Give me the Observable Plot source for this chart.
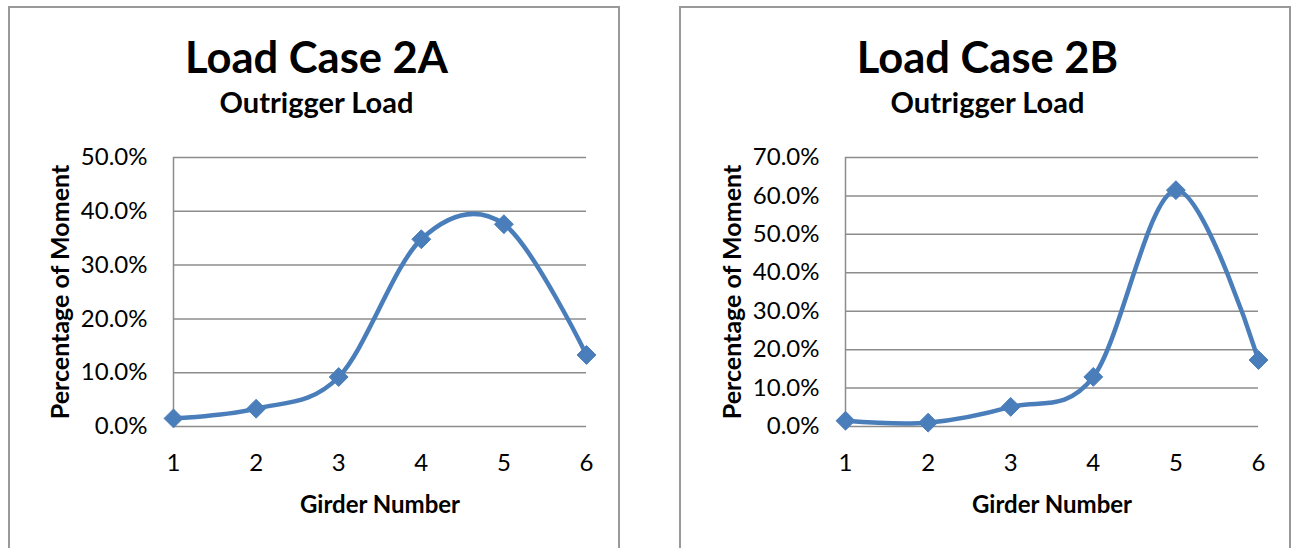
<!DOCTYPE html>
<html>
<head>
<meta charset="utf-8">
<script src="https://cdn.jsdelivr.net/npm/d3@7"></script>
<script src="https://cdn.jsdelivr.net/npm/@observablehq/plot@0.6"></script>
<style>
  html, body { margin: 0; padding: 0; background: #fff; }
  body { position: relative; width: 1292px; height: 548px; overflow: hidden; }
  .box { position: absolute; top: 6px; width: 612px; height: 620px; border: 2px solid #999; box-sizing: border-box; }
  .chart { position: absolute; top: 0; }
</style>
</head>
<body>
<div class="box" style="left:8px"></div>
<div class="box" style="left:679px"></div>
<div id="chartA" class="chart" style="left:0px"></div>
<div id="chartB" class="chart" style="left:640px"></div>
<script>
const girders = [1, 2, 3, 4, 5, 6];
const valuesA = [0.015, 0.033, 0.092, 0.348, 0.376, 0.133];
const valuesB = [0.015, 0.010, 0.051, 0.129, 0.615, 0.173];
const yTicksA = [0, 0.1, 0.2, 0.3, 0.4, 0.5];
const yTicksB = [0, 0.1, 0.2, 0.3, 0.4, 0.5, 0.6, 0.7];
const titleA = "Load Case 2A";
const titleB = "Load Case 2B";
const subtitle = "Outrigger Load";
const xLabel = "Girder Number";
const yLabel = "Percentage of Moment";

const blue = "#4a7ebb";
const grid = "#8c8c8c";
const font = "Lato, 'Open Sans', sans-serif";

function makeChart({values, yTicks, title, width, marginLeft, marginRight, titleDx}) {
  const data = girders.map((g, i) => ({girder: g, value: values[i]}));
  return Plot.plot({
    width,
    height: 548,
    marginLeft,
    marginRight,
    marginTop: 157,
    marginBottom: 122,
    style: {fontFamily: font, background: "transparent", color: "#000", overflow: "visible"},
    x: {domain: [1, 6], axis: null},
    y: {domain: [0, yTicks[yTicks.length - 1]], axis: null},
    marks: [
      Plot.ruleY(yTicks, {stroke: grid, strokeWidth: 1.5}),
      Plot.ruleX([1], {stroke: grid, strokeWidth: 1.5}),
      Plot.axisY({ticks: yTicks, tickSize: 0, tickPadding: 26, tickFormat: d3.format(".1%"), fontSize: 24, label: null, fill: "#000"}),
      Plot.axisX({ticks: girders, tickSize: 0, tickPadding: 27, tickFormat: d => String(d), fontSize: 24, label: null, fill: "#000"}),
      Plot.line(data, {x: "girder", y: "value", curve: "cardinal", tension: 0, stroke: blue, strokeWidth: 4.5}),
      Plot.dot(data, {x: "girder", y: "value", symbol: "diamond2", r: 8.5, fill: blue, stroke: blue, strokeWidth: 1}),
      Plot.text([title], {frameAnchor: "top", dx: titleDx, dy: -85, lineAnchor: "bottom", fontSize: 43.5, fontWeight: "bold", fill: "#000"}),
      Plot.text([subtitle], {frameAnchor: "top", dx: titleDx, dy: -45, lineAnchor: "bottom", fontSize: 29, fontWeight: "bold", fill: "#000"}),
      Plot.text([xLabel], {frameAnchor: "bottom", dy: 86, lineAnchor: "bottom", fontSize: 24, fontWeight: "bold", fill: "#000"}),
      Plot.text([yLabel], {frameAnchor: "left", dx: -113, rotate: -90, textAnchor: "middle", lineAnchor: "middle", fontSize: 25, fontWeight: "bold", fill: "#000"})
    ]
  });
}

document.getElementById("chartA").append(makeChart({
  values: valuesA, yTicks: yTicksA, title: titleA,
  width: 640, marginLeft: 173, marginRight: 54, titleDx: -63.5
}));
document.getElementById("chartB").append(makeChart({
  values: valuesB, yTicks: yTicksB, title: titleB,
  width: 652, marginLeft: 205, marginRight: 34, titleDx: -64.5
}));
</script>
</body>
</html>
